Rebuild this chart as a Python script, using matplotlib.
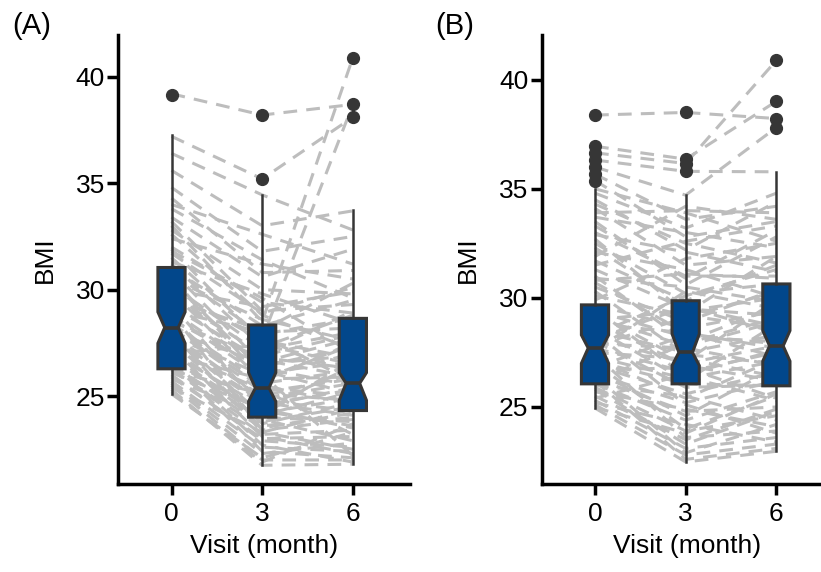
import matplotlib
matplotlib.use("Agg")
import matplotlib.pyplot as plt

plt.rcParams["font.family"] = ["Liberation Sans", "DejaVu Sans"]

# visits (month) and x positions of the three boxes
visits = ["0", "3", "6"]
positions = [0, 1, 2]

# ── panel A: box statistics ──────────────────────────────────────────────────
a_med = [28.22, 25.38, 25.60]
a_q1 = [26.28, 24.01, 24.32]
a_q3 = [31.04, 28.34, 28.65]
a_whislo = [25.12, 21.75, 21.80]
a_whishi = [37.24, 34.45, 33.73]
a_cilo = [27.48, 24.75, 24.80]
a_cihi = [28.95, 26.10, 26.10]
a_fliers = [[39.16], [38.22, 35.19], [40.87, 38.73, 38.13]]

# panel A: individual subjects (BMI at visit 0, 3, 6)
a_v0 = [39.2, 37.2, 33.0, 31.5, 36.4, 35.6, 34.8, 34.0, 33.4, 32.8,
        32.4, 32.0, 31.7, 31.3, 31.0, 30.8, 30.5, 30.2, 30.0, 29.8,
        29.6, 29.4, 29.2, 29.0, 28.8, 28.6, 28.4, 28.3, 28.2, 28.1,
        27.9, 27.7, 27.5, 27.4, 27.2, 27.0, 26.9, 26.8, 26.6, 26.5,
        26.4, 26.3, 26.2, 26.0, 25.9, 25.7, 25.6, 25.5, 25.3, 25.1,
        30.0, 29.0, 31.8, 28.0, 27.0, 33.2, 26.2, 27.8, 29.3, 25.8,
        30.6, 28.9, 26.7, 27.3, 34.3, 30.9, 29.7, 28.7, 27.6, 26.1,
        25.4, 31.2, 32.6, 33.8, 28.5, 27.1, 29.9, 26.6, 30.4, 27.9,
        25.2, 28.0, 29.5, 31.9, 26.9]
a_v3 = [38.2, 35.2, 28.5, 27.7, 34.45, 33.0, 31.8, 32.6, 30.6, 30.0,
        31.2, 29.4, 28.9, 29.8, 28.3, 27.9, 28.6, 27.2, 27.6, 26.9,
        27.0, 26.4, 26.7, 26.1, 25.9, 26.3, 25.6, 25.4, 25.2, 25.5,
        24.9, 25.0, 24.6, 24.8, 24.2, 24.5, 24.0, 23.8, 24.3, 23.6,
        23.9, 23.2, 23.5, 22.9, 23.0, 22.6, 22.3, 22.0, 21.75, 22.1,
        29.2, 28.0, 29.6, 26.6, 27.4, 29.0, 25.1, 26.0, 24.4, 24.1,
        25.8, 23.4, 22.7, 23.1, 30.8, 26.5, 27.8, 24.7, 23.7, 24.4,
        23.3, 27.3, 28.8, 31.4, 26.8, 25.3, 25.7, 22.4, 26.2, 24.1,
        21.9, 23.3, 28.1, 27.5, 25.8]
a_v6 = [38.7, 38.1, 40.9, 38.7, 32.8, 33.7, 32.5, 31.2, 31.9, 29.8,
        30.5, 28.9, 30.1, 28.4, 29.5, 28.65, 27.6, 28.0, 26.8, 27.9,
        29.0, 27.3, 25.9, 26.6, 27.0, 25.5, 26.2, 25.0, 25.8, 24.6,
        25.6, 26.0, 25.3, 24.3, 24.9, 25.4, 23.8, 24.5, 23.6, 24.0,
        22.9, 23.4, 24.2, 22.6, 23.1, 22.4, 22.8, 22.0, 21.8, 23.3,
        29.9, 28.2, 27.0, 27.7, 26.5, 29.3, 24.8, 22.2, 26.4, 25.2,
        27.4, 23.9, 21.9, 22.3, 30.9, 26.9, 25.7, 24.1, 24.7, 23.5,
        22.5, 28.8, 27.2, 29.6, 26.3, 23.2, 27.5, 22.1, 25.1, 26.7,
        23.7, 24.4, 30.3, 26.1, 25.9]

# ── panel B: box statistics ──────────────────────────────────────────────────
b_med = [27.70, 27.50, 27.80]
b_q1 = [26.06, 26.06, 25.97]
b_q3 = [29.68, 29.87, 30.64]
b_whislo = [24.95, 22.48, 22.97]
b_whishi = [35.00, 34.71, 35.78]
b_cilo = [27.00, 26.90, 27.10]
b_cihi = [28.30, 28.35, 28.50]
b_fliers = [[38.38, 36.95, 36.65, 36.32, 36.00, 35.67, 35.38],
            [38.50, 36.36, 36.16, 35.80],
            [40.89, 39.01, 38.22, 37.81]]

# panel B: individual subjects
b_v0 = [38.38, 36.95, 36.65, 36.32, 36.0, 35.67, 35.38, 35.0, 34.5, 34.1,
        33.7, 33.3, 32.9, 32.5, 32.1, 31.7, 31.3, 30.9, 30.5, 30.1,
        29.68, 29.4, 29.1, 28.8, 28.5, 28.2, 27.9, 27.7, 27.5, 27.3,
        27.1, 26.9, 26.7, 26.5, 26.3, 26.06, 25.9, 25.7, 25.5, 25.3,
        25.1, 24.95, 34.8, 33.0, 31.0, 29.0, 28.0, 27.0, 26.0, 30.3,
        28.6, 27.4, 26.4, 32.3, 33.9, 29.9, 28.3, 26.2, 25.4, 27.8,
        34.3, 33.5, 31.5, 30.7, 29.3, 28.9, 28.1, 27.2, 26.6, 25.8,
        25.2, 26.8, 27.6, 29.5, 30.8, 32.7, 31.9, 28.4, 24.98, 26.2]
b_v3 = [38.5, 36.36, 36.16, 35.8, 34.71, 33.6, 32.8, 33.9, 32.2, 31.5,
        33.0, 30.9, 32.1, 30.2, 31.3, 29.87, 29.5, 30.5, 28.9, 29.2,
        28.6, 28.2, 27.8, 28.4, 27.5, 27.0, 27.7, 26.6, 27.2, 26.3,
        26.06, 25.6, 26.8, 25.2, 24.8, 24.4, 23.9, 24.9, 23.5, 23.1,
        22.8, 22.48, 33.2, 31.0, 28.0, 29.4, 25.9, 24.0, 25.5, 27.4,
        26.2, 23.6, 22.9, 29.6, 34.0, 31.8, 30.1, 27.9, 26.5, 29.1,
        32.5, 30.6, 32.6, 28.4, 27.1, 26.9, 29.6, 25.4, 24.6, 23.3,
        24.2, 28.3, 30.3, 26.4, 31.1, 29.3, 34.2, 25.1, 23.8, 22.6]
b_v6 = [38.22, 39.01, 40.89, 35.78, 37.81, 34.2, 33.5, 32.6, 34.4, 31.9,
        32.3, 33.1, 31.2, 30.64, 30.0, 31.5, 29.2, 29.8, 30.4, 28.6,
        29.4, 28.0, 28.9, 27.3, 28.3, 27.8, 26.9, 27.5, 26.4, 27.1,
        25.97, 26.6, 25.4, 26.2, 25.0, 25.7, 24.6, 24.1, 24.9, 23.6,
        23.3, 22.97, 34.8, 31.0, 29.6, 30.0, 26.0, 25.5, 24.4, 27.0,
        28.8, 23.9, 24.2, 28.4, 33.9, 32.5, 31.3, 29.1, 27.6, 30.3,
        31.6, 32.8, 33.3, 27.7, 29.9, 26.2, 28.7, 27.2, 26.8, 24.8,
        23.4, 27.9, 29.5, 25.3, 30.9, 31.9, 33.6, 23.8, 25.6, 23.1]

BOX_FACE = "#02478b"
DARK = "#363636"
LINE = "#bdbdbd"


def draw_panel(ax, v0, v3, v6, med, q1, q3, wlo, whi, cilo, cihi, fliers, ylim):
    # spaghetti: one dashed line per subject, behind the boxes
    for a, b, c in zip(v0, v3, v6):
        ax.plot(positions, [a, b, c], color=LINE, lw=2.2,
                ls=(0, (4.5, 3.0)), zorder=1, solid_capstyle="butt")

    stats = []
    for i in range(3):
        stats.append(dict(med=med[i], q1=q1[i], q3=q3[i], whislo=wlo[i],
                          whishi=whi[i], cilo=cilo[i], cihi=cihi[i],
                          fliers=fliers[i]))
    ax.bxp(stats, positions=positions, widths=0.30, shownotches=True,
           showcaps=False, patch_artist=True, zorder=3,
           boxprops=dict(facecolor=BOX_FACE, edgecolor=DARK, lw=2.2),
           whiskerprops=dict(color=DARK, lw=1.8),
           medianprops=dict(color=DARK, lw=2.6),
           flierprops=dict(marker="o", markerfacecolor=DARK,
                           markeredgecolor=DARK, markersize=8.5))

    ax.set_xlim(-0.59, 2.63)
    ax.set_ylim(*ylim)
    ax.set_xticks(positions)
    ax.set_xticklabels(visits)
    ax.set_yticks([25, 30, 35, 40])
    ax.spines[["top", "right"]].set_visible(False)
    for s in ("left", "bottom"):
        ax.spines[s].set_linewidth(2.5)
    ax.tick_params(axis="both", width=2.5, length=8, labelsize=19, color="black")
    ax.tick_params(axis="y", pad=1.5)
    ax.tick_params(axis="x", pad=5)
    ax.set_xlabel("Visit (month)", fontsize=19, labelpad=6)
    ax.set_ylabel("BMI", fontsize=19)
    ax.yaxis.set_label_coords(-0.21, 0.5)


W, H = 821, 572
fig = plt.figure(figsize=(W / 100, H / 100), dpi=100)
bottom, top = (H - 484) / H, (H - 35) / H
axA = fig.add_axes([118 / W, bottom, 292 / W, top - bottom])
axB = fig.add_axes([541.5 / W, bottom, 292 / W, top - bottom])

draw_panel(axA, a_v0, a_v3, a_v6, a_med, a_q1, a_q3, a_whislo, a_whishi,
           a_cilo, a_cihi, a_fliers, (20.87, 41.96))
draw_panel(axB, b_v0, b_v3, b_v6, b_med, b_q1, b_q3, b_whislo, b_whishi,
           b_cilo, b_cihi, b_fliers, (21.47, 42.05))

fig.text(12 / W, 1 - 26 / H, "(A)", fontsize=21, ha="left", va="center")
fig.text(435 / W, 1 - 26 / H, "(B)", fontsize=21, ha="left", va="center")

fig.savefig("out.png", dpi=100)
